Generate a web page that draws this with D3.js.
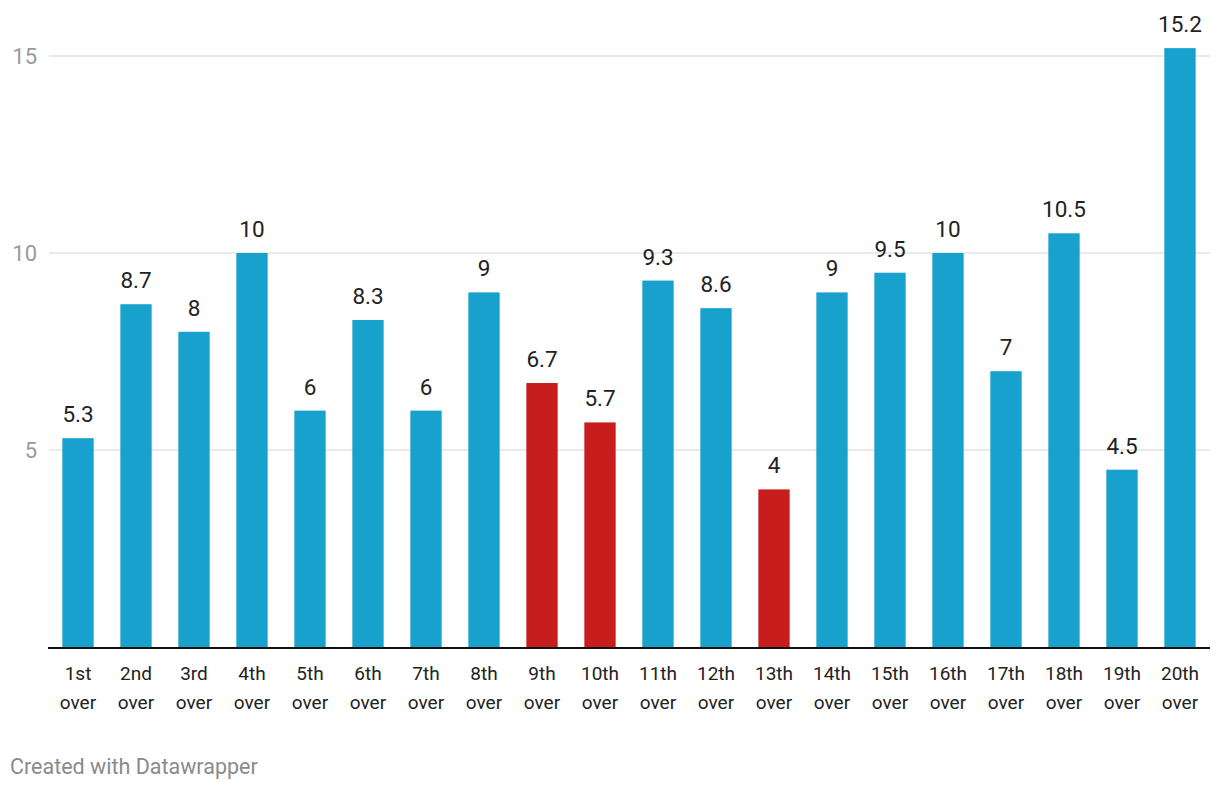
<!DOCTYPE html>
<html><head><meta charset="utf-8">
<script src="https://cdn.jsdelivr.net/npm/d3@7"></script>
<style>body{margin:0;background:#fff;font-family:Roboto,sans-serif}</style>
</head><body><svg id="c" width="1220" height="790"></svg>
<script>
const categories = ["1st over","2nd over","3rd over","4th over","5th over","6th over","7th over","8th over","9th over","10th over","11th over","12th over","13th over","14th over","15th over","16th over","17th over","18th over","19th over","20th over"];
const values = [5.3,8.7,8,10,6,8.3,6,9,6.7,5.7,9.3,8.6,4,9,9.5,10,7,10.5,4.5,15.2];
const highlighted = ["9th over","10th over","13th over"];
const yTicks = [5,10,15];

const svg = d3.select("#c");
const x = d3.scaleBand().domain(categories).range([49,1209]).paddingInner(0.46).paddingOuter(0.23);
const y = d3.scaleLinear().domain([0,15]).range([647,56]);

const g = svg.append("g");
g.selectAll("line.grid").data(yTicks).join("line")
  .attr("x1",49).attr("x2",1210).attr("y1",d=>y(d)).attr("y2",d=>y(d))
  .attr("stroke","#e3e3e3").attr("stroke-width",1.5);
g.selectAll("text.yt").data(yTicks).join("text")
  .attr("x",37).attr("y",d=>y(d)).attr("dy","0.35em").attr("text-anchor","end")
  .attr("fill","#9a9a9a").attr("font-size",22).text(d=>d);

g.selectAll("rect").data(values).join("rect")
  .attr("x",(d,i)=>x(categories[i])).attr("width",x.bandwidth())
  .attr("y",d=>y(d)).attr("height",d=>y(0)-y(d))
  .attr("fill",(d,i)=>highlighted.includes(categories[i])?"#c71e1d":"#18a1cd");

g.selectAll("text.val").data(values).join("text")
  .attr("x",(d,i)=>x(categories[i])+x.bandwidth()/2).attr("y",d=>y(d)-16)
  .attr("text-anchor","middle").attr("fill","#222").attr("font-size",22.5).text(d=>d);

g.append("line").attr("x1",48).attr("x2",1210).attr("y1",y(0)+1).attr("y2",y(0)+1)
  .attr("stroke","#111").attr("stroke-width",2);

const xl = g.selectAll("text.xl").data(categories).join("text")
  .attr("x",d=>x(d)+x.bandwidth()/2).attr("y",680)
  .attr("text-anchor","middle").attr("fill","#222").attr("font-size",19);
xl.each(function(d){
  const parts = d.split(" ");
  const t = d3.select(this);
  parts.forEach((p,i)=>t.append("tspan").attr("x",t.attr("x")).attr("dy",i?29:0).text(p));
});

svg.append("text").attr("x",10).attr("y",774).attr("fill","#8a8a8a").attr("font-size",21.5)
  .text("Created with Datawrapper");
</script></body></html>
